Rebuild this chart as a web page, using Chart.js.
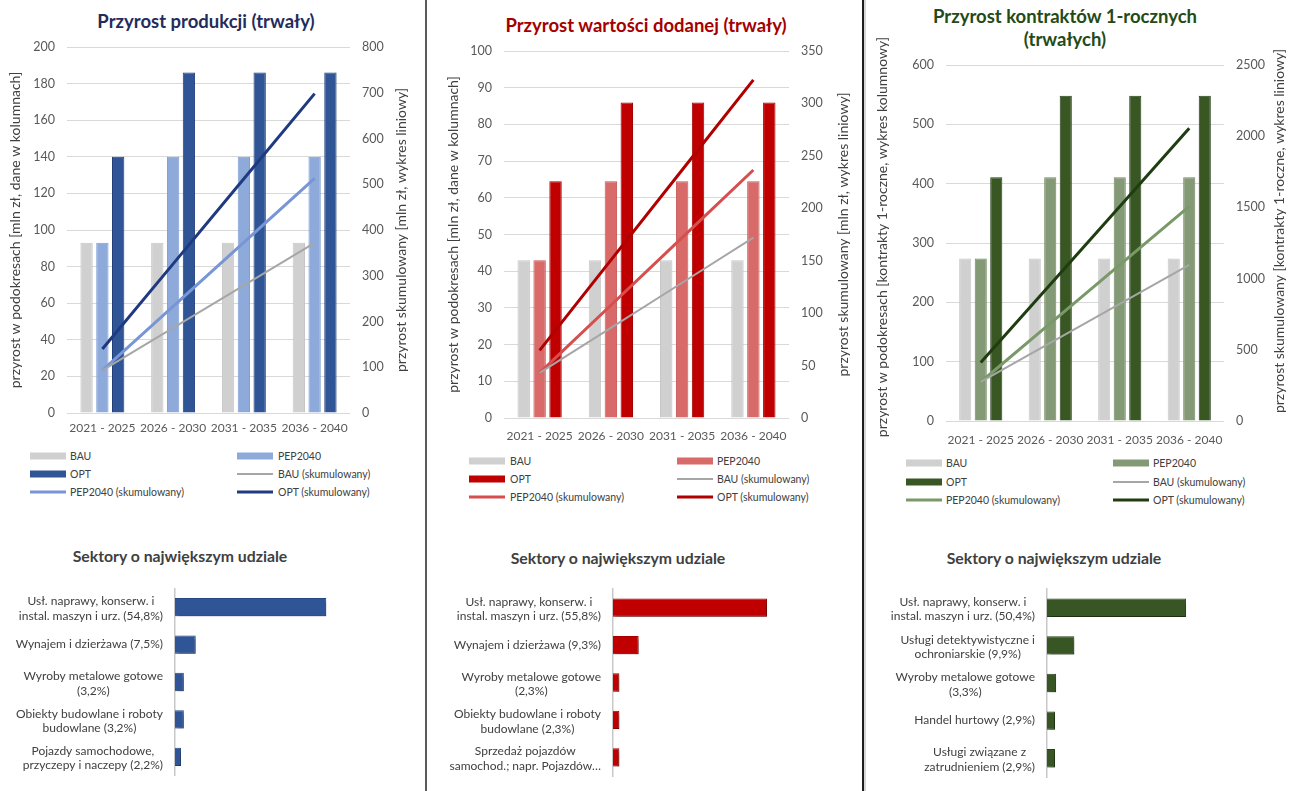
<!DOCTYPE html>
<html lang="pl">
<head>
<meta charset="utf-8">
<title>Przyrost produkcji, wartości dodanej i kontraktów</title>
<script src="https://cdn.jsdelivr.net/npm/chart.js@4.4.1/dist/chart.umd.min.js"></script>
<style>
  html, body { margin: 0; padding: 0; background: #fff; }
  body { width: 1294px; height: 791px; position: relative; overflow: hidden; font-family: Lato, "Noto Sans", sans-serif; color: #404040; }
  canvas { position: absolute; }
  .title { position: absolute; transform: translate(-50%, -50%); font-weight: bold; white-space: nowrap; text-align: center; line-height: 23px; }
  .sub { position: absolute; transform: translate(-50%, -50%); font-weight: bold; font-size: 15.8px; color: #404040; white-space: nowrap; }
  .sep { position: absolute; top: 0; height: 791px; }
  .lg { position: absolute; font-size: 10.5px; color: #404040; white-space: nowrap; line-height: 14px; transform: translateY(-50%); }
  .sw { position: absolute; transform: translateY(-50%); }
</style>
</head>
<body>
<div class="sep" style="left:425px;width:2px;background:#5a5a5a"></div>
<div class="sep" style="left:862px;width:2px;background:#1e1e1e"></div>
<div class="sep" style="left:864px;width:2px;background:#d6d6d6"></div>

<div class="title" style="left:206px;top:21px;font-size:18.5px;color:#1f2d5c">Przyrost produkcji (trwały)</div>
<div class="title" style="left:646px;top:25px;font-size:18.5px;color:#a50000">Przyrost wartości dodanej (trwały)</div>
<div class="title" style="left:1065px;top:28px;font-size:18.5px;color:#244a16">Przyrost kontraktów 1-rocznych<br>(trwałych)</div>

<div class="sub" style="left:180px;top:555px">Sektory o największym udziale</div>
<div class="sub" style="left:618px;top:557px">Sektory o największym udziale</div>
<div class="sub" style="left:1054px;top:557px">Sektory o największym udziale</div>

<script>
// ---- shared categories ----
const periods = ['2021 - 2025', '2026 - 2030', '2031 - 2035', '2036 - 2040'];

// ---- production growth (mln zł) ----
const prodBAU = [93, 93, 93, 93];
const prodPEP = [93, 140, 140, 140];
const prodOPT = [140, 186, 186, 186];
const prodBAUcum = [93, 186, 279, 372];
const prodPEPcum = [93, 233, 373, 513];
const prodOPTcum = [140, 326, 512, 698];

// ---- value added growth (mln zł) ----
const vaBAU = [43, 43, 43, 43];
const vaPEP = [43, 64.5, 64.5, 64.5];
const vaOPT = [64.5, 86, 86, 86];
const vaBAUcum = [43, 86, 129, 172];
const vaPEPcum = [43, 107.5, 172, 236.5];
const vaOPTcum = [64.5, 150.5, 236.5, 322.5];

// ---- 1-year contracts growth ----
const kBAU = [274, 274, 274, 274];
const kPEP = [274, 411, 411, 411];
const kOPT = [411, 548, 548, 548];
const kBAUcum = [274, 548, 822, 1096];
const kPEPcum = [274, 685, 1096, 1507];
const kOPTcum = [411, 959, 1507, 2055];

// ---- sectors with the largest share (%) ----
const sectorsProd = [
  ['Usł. naprawy, konserw. i', 'instal. maszyn i urz. (54,8%)'],
  ['Wynajem i dzierżawa (7,5%)'],
  ['Wyroby metalowe gotowe', '(3,2%)'],
  ['Obiekty budowlane i roboty', 'budowlane (3,2%)'],
  ['Pojazdy samochodowe,', 'przyczepy i naczepy (2,2%)']
];
const sharesProd = [54.8, 7.5, 3.2, 3.2, 2.2];

const sectorsVA = [
  ['Usł. naprawy, konserw. i', 'instal. maszyn i urz. (55,8%)'],
  ['Wynajem i dzierżawa (9,3%)'],
  ['Wyroby metalowe gotowe', '(2,3%)'],
  ['Obiekty budowlane i roboty', 'budowlane (2,3%)'],
  ['Sprzedaż pojazdów', 'samochod.; napr. Pojazdów…']
];
const sharesVA = [55.8, 9.3, 2.3, 2.3, 2.3];

const sectorsK = [
  ['Usł. naprawy, konserw. i', 'instal. maszyn i urz. (50,4%)'],
  ['Usługi detektywistyczne i', 'ochroniarskie (9,9%)'],
  ['Wyroby metalowe gotowe', '(3,3%)'],
  ['Handel hurtowy (2,9%)'],
  ['Usługi związane z', 'zatrudnieniem (2,9%)']
];
const sharesK = [50.4, 9.9, 3.3, 2.9, 2.9];

// ---- drawing helpers ----
const FONT = 'Lato, "Noto Sans", sans-serif';
const TEXT = '#595959';

function addCanvas(box) {
  const c = document.createElement('canvas');
  c.width = box.width; c.height = box.height;
  c.style.left = box.left + 'px'; c.style.top = box.top + 'px';
  c.style.width = box.width + 'px'; c.style.height = box.height + 'px';
  document.body.appendChild(c);
  return c;
}

// rotated axis captions, both reading bottom-to-top
const axisCaptions = {
  id: 'axisCaptions',
  afterDraw(chart, args, opts) {
    const { ctx, chartArea } = chart;
    const cy = (chartArea.top + chartArea.bottom) / 2;
    ctx.save();
    ctx.font = opts.font;
    ctx.fillStyle = opts.color;
    ctx.textAlign = 'center';
    ctx.textBaseline = 'middle';
    for (const item of opts.items) {
      ctx.save();
      ctx.translate(item.x, cy + (item.dy || 0));
      ctx.rotate(-Math.PI / 2);
      ctx.fillText(item.text, 0, 0);
      ctx.restore();
    }
    ctx.restore();
  }
};

// category labels: block right-aligned to the axis, lines centred inside the block
const blockLabels = {
  id: 'blockLabels',
  afterDraw(chart, args, opts) {
    const { ctx } = chart;
    const ys = chart.scales.y;
    ctx.save();
    ctx.font = opts.font;
    ctx.fillStyle = opts.color;
    ctx.textAlign = 'center';
    ctx.textBaseline = 'middle';
    chart.data.labels.forEach((lab, i) => {
      const lines = Array.isArray(lab) ? lab : [lab];
      const w = Math.max(...lines.map(l => ctx.measureText(l).width));
      const cx = ys.right - opts.padding - w / 2;
      const cy = ys.getPixelForValue(i) + (lines.length > 1 ? 1.5 : 0);
      lines.forEach((l, k) => ctx.fillText(l, cx, cy + (k - (lines.length - 1) / 2) * opts.lineHeight));
    });
    ctx.restore();
  }
};

// soft drop shadow under the horizontal bars
const barShadow = {
  id: 'barShadow',
  beforeDatasetsDraw(chart) {
    const ctx = chart.ctx;
    ctx.save();
    ctx.shadowColor = 'rgba(0,0,0,0.38)';
    ctx.shadowBlur = 4;
    ctx.shadowOffsetX = 2;
    ctx.shadowOffsetY = 3;
  },
  afterDatasetsDraw(chart) { chart.ctx.restore(); }
};

const plainNumber = v => String(v);

function comboChart(p) {
  const b = p.box, a = p.area, c = p.colors;
  const canvas = addCanvas(b);
  const tickFont = { family: FONT, size: 12.5 };
  const catFont = { family: FONT, size: 12 };
  const chart = new Chart(canvas, {
    type: 'bar',
    data: {
      labels: periods,
      datasets: [
        { label: 'BAU', data: p.bau, backgroundColor: '#d0d0d0', borderColor: '#c6c6c6', borderWidth: 1, yAxisID: 'y', order: 1 },
        { label: 'PEP2040', data: p.pep, backgroundColor: c.pepBar, borderColor: c.pepBarB, borderWidth: 1, yAxisID: 'y', order: 1 },
        { label: 'OPT', data: p.opt, backgroundColor: c.optBar, borderColor: c.optBarB, borderWidth: 1, yAxisID: 'y', order: 1 },
        { type: 'line', label: 'BAU (skumulowany)', data: p.bauCum, borderColor: '#a6a6a6', borderWidth: 2, pointRadius: 0, yAxisID: 'y2', order: 0 },
        { type: 'line', label: 'PEP2040 (skumulowany)', data: p.pepCum, borderColor: c.pepLine, borderWidth: 3, pointRadius: 0, yAxisID: 'y2', order: 0 },
        { type: 'line', label: 'OPT (skumulowany)', data: p.optCum, borderColor: c.optLine, borderWidth: 3, pointRadius: 0, yAxisID: 'y2', order: 0 }
      ]
    },
    options: {
      responsive: false,
      animation: false,
      layout: { padding: { top: a.top - b.top, left: 0, right: 0, bottom: 0 } },
      datasets: { bar: { categoryPercentage: 0.67, barPercentage: 0.78 } },
      plugins: {
        legend: { display: false },
        tooltip: { enabled: false },
        axisCaptions: {
          font: '14px ' + FONT,
          color: '#404040',
          items: [
            { x: p.leftCaptionX - b.left, text: p.leftCaption, dy: p.leftDy || 0 },
            { x: p.rightCaptionX - b.left, text: p.rightCaption, dy: p.rightDy || 0 }
          ]
        }
      },
      scales: {
        x: {
          grid: { display: false },
          border: { display: false },
          ticks: { font: catFont, color: TEXT, padding: p.xPad, maxRotation: 0, autoSkip: false },
          afterFit(s) { s.height = b.top + b.height - a.bottom; }
        },
        y: {
          position: 'left', min: 0, max: p.yMax,
          ticks: { stepSize: p.yStep, font: tickFont, color: TEXT, padding: 12, callback: plainNumber },
          grid: { color: '#d9d9d9', lineWidth: 1, drawTicks: false },
          border: { display: false },
          afterFit(s) { s.width = a.left - b.left; }
        },
        y2: {
          position: 'right', min: 0, max: p.y2Max,
          ticks: { stepSize: p.y2Step, font: tickFont, color: TEXT, padding: 12, callback: plainNumber },
          grid: { display: false, drawTicks: false },
          border: { display: false },
          afterFit(s) { s.width = b.left + b.width - a.right; }
        }
      }
    },
    plugins: [axisCaptions]
  });
  buildLegend(chart, p.legend);
  return chart;
}

function buildLegend(chart, lg) {
  chart.data.datasets.forEach((ds, i) => {
    const col = i % 2, row = Math.floor(i / 2);
    const sw = document.createElement('div');
    sw.className = 'sw';
    const isLine = ds.type === 'line';
    sw.style.left = lg.swatchX[col] + 'px';
    sw.style.top = lg.rowY[row] + 'px';
    sw.style.width = '36px';
    sw.style.height = (isLine ? ds.borderWidth : 7) + 'px';
    sw.style.background = isLine ? ds.borderColor : ds.backgroundColor;
    document.body.appendChild(sw);
    const t = document.createElement('div');
    t.className = 'lg';
    t.textContent = ds.label;
    t.style.left = lg.textX[col] + 'px';
    t.style.top = lg.rowY[row] + 'px';
    document.body.appendChild(t);
  });
}

function sectorChart(s) {
  const b = s.box;
  const canvas = addCanvas(b);
  const right = s.axisX + s.pxPerUnit * s.max;
  return new Chart(canvas, {
    type: 'bar',
    data: {
      labels: s.labels,
      datasets: [{ data: s.values, backgroundColor: s.color, borderColor: s.border, borderWidth: 1 }]
    },
    options: {
      indexAxis: 'y',
      responsive: false,
      animation: false,
      layout: { padding: { top: s.areaTop - b.top, bottom: b.top + b.height - s.areaBottom, left: 0, right: b.left + b.width - right } },
      datasets: { bar: { categoryPercentage: 1, barPercentage: 0.49 } },
      plugins: {
        legend: { display: false },
        tooltip: { enabled: false },
        blockLabels: { font: '12px ' + FONT, color: '#404040', padding: 12, lineHeight: 14.5 }
      },
      scales: {
        x: { display: false, min: 0, max: s.max },
        y: {
          ticks: { display: false },
          grid: { display: false, drawTicks: false },
          border: { display: true, color: '#c8c8c8', width: 1.5 },
          afterFit(sc) { sc.width = s.axisX - b.left; }
        }
      }
    },
    plugins: [barShadow, blockLabels]
  });
}

// ---- top row: combined column + cumulative line charts ----
comboChart({
  box: { left: 0, top: 0, width: 425, height: 446 },
  area: { left: 67, right: 350, top: 47, bottom: 413 },
  bau: prodBAU, pep: prodPEP, opt: prodOPT,
  bauCum: prodBAUcum, pepCum: prodPEPcum, optCum: prodOPTcum,
  yMax: 200, yStep: 20, y2Max: 800, y2Step: 100, xPad: 0,
  leftCaption: 'przyrost w podokresach [mln zł, dane w kolumnach]', leftCaptionX: 15,
  rightCaption: 'przyrost skumulowany [mln zł, wykres liniowy]', rightCaptionX: 401,
  colors: { pepBar: '#8eaadb', pepBarB: '#7e9cd4', optBar: '#2f5597', optBarB: '#1f3c78', pepLine: '#7896d6', optLine: '#1f3a80' },
  legend: { swatchX: [30, 237], textX: [70, 278], rowY: [456, 474, 492] }
});

comboChart({
  box: { left: 428, top: 0, width: 434, height: 452 },
  area: { left: 504, right: 789, top: 51, bottom: 418 },
  bau: vaBAU, pep: vaPEP, opt: vaOPT,
  bauCum: vaBAUcum, pepCum: vaPEPcum, optCum: vaOPTcum,
  yMax: 100, yStep: 10, y2Max: 350, y2Step: 50, xPad: 3,
  leftCaption: 'przyrost w podokresach [mln zł, dane w kolumnach]', leftCaptionX: 453,
  rightCaption: 'przyrost skumulowany [mln zł, wykres liniowy]', rightCaptionX: 843,
  colors: { pepBar: '#d96a6a', pepBarB: '#c85656', optBar: '#c00000', optBarB: '#a00000', pepLine: '#d64f4f', optLine: '#b00000' },
  legend: { swatchX: [469, 677], textX: [510, 717], rowY: [461, 479, 497] }
});

comboChart({
  box: { left: 866, top: 0, width: 428, height: 456 },
  area: { left: 946, right: 1224, top: 65, bottom: 421 },
  bau: kBAU, pep: kPEP, opt: kOPT,
  bauCum: kBAUcum, pepCum: kPEPcum, optCum: kOPTcum,
  yMax: 600, yStep: 100, y2Max: 2500, y2Step: 500, xPad: 4,
  leftCaption: 'przyrost w podokresach [kontrakty 1-roczne, wykres kolumnowy]', leftCaptionX: 882, leftDy: -6,
  rightCaption: 'przyrost skumulowany [kontrakty 1-roczne, wykres liniowy]', rightCaptionX: 1279, rightDy: -12,
  colors: { pepBar: '#849a76', pepBarB: '#6f8a5f', optBar: '#385723', optBarB: '#26401a', pepLine: '#7a9968', optLine: '#1f3d10' },
  legend: { swatchX: [906, 1113], textX: [946, 1153], rowY: [463, 482, 500] }
});

// ---- bottom row: sectors with the largest share ----
sectorChart({
  box: { left: 0, top: 575, width: 425, height: 212 },
  axisX: 175, areaTop: 588.5, areaBottom: 775.5, max: 60, pxPerUnit: 2.76,
  labels: sectorsProd, values: sharesProd, color: '#2f5597', border: '#264a88'
});
sectorChart({
  box: { left: 428, top: 575, width: 434, height: 212 },
  axisX: 613, areaTop: 589, areaBottom: 776, max: 60, pxPerUnit: 2.76,
  labels: sectorsVA, values: sharesVA, color: '#c00000', border: '#a80000'
});
sectorChart({
  box: { left: 866, top: 575, width: 428, height: 212 },
  axisX: 1047, areaTop: 589, areaBottom: 777, max: 60, pxPerUnit: 2.76,
  labels: sectorsK, values: sharesK, color: '#375623', border: '#2b461b'
});
</script>
</body>
</html>
